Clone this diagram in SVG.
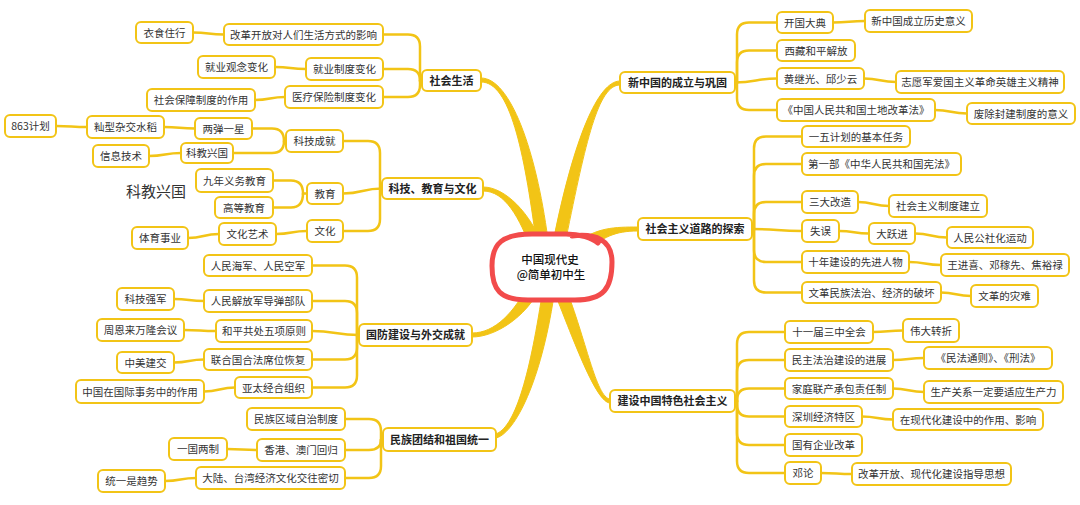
<svg xmlns="http://www.w3.org/2000/svg" width="1080" height="505" viewBox="0 0 1080 505">
<style>
.n rect{fill:#fff;stroke:#F2C416;stroke-width:2}
.n text{font-family:"Noto Sans CJK SC","Noto Sans",sans-serif;font-size:10.5px;fill:#333;text-anchor:middle}
.m text{font-size:11px;font-weight:bold;fill:#222}
#conn path{fill:none;stroke:#F2C416;stroke-width:2.5;stroke-linecap:round}
#branches path{fill:#F2C416;stroke:#F2C416;stroke-width:1}
.free{font-family:"Noto Sans CJK SC","Noto Sans",sans-serif;font-size:15px;fill:#333;text-anchor:middle}
.ct{font-family:"Noto Sans CJK SC","Noto Sans",sans-serif;font-size:11.5px;font-weight:500;fill:#111;text-anchor:middle}
</style>
<rect width="1080" height="505" fill="#fff"/>
<g id="branches">
<path d="M547.9,239.2C535.9,149.2 510,78 481,78L481,82C510,82 524.1,150.8 536.1,240.8Z"/>
<path d="M565.9,239.2C585.9,141.2 598,85 620,85L620,81C598,81 574.1,138.8 554.1,236.8Z"/>
<path d="M583.8,252.7C603.8,236.7 615,231 638,231L638,227C615,227 596.2,227.3 576.2,243.3Z"/>
<path d="M554.4,292.2C574.4,342.2 595.9,402 609.9,403L610.1,399C596.1,398 585.6,337.8 565.6,287.8Z"/>
<path d="M543.6,247.9C530.6,212.9 505,187 483,187L483,191C505,191 519.4,217.1 532.4,252.1Z"/>
<path d="M529.6,282.3C514.6,312.3 495,333 472,333L472,337C495,337 525.4,317.7 540.4,287.7Z"/>
<path d="M542.1,294.1C529.1,379.1 514.4,428.1 495.4,434.1L496.6,437.9C515.6,431.9 540.9,380.9 553.9,295.9Z"/>
</g>
<g id="center">
<path d="M572,236C596,233 612,240 612,262C612,288 604,300 575,300L528,300C500,300 492,290 492,266C492,243 503,234 532,234L566,234C580,234 592,238 598,243" fill="#fff" stroke="#F24B4B" stroke-width="5" stroke-linecap="round"/>
<text class="ct" x="550" y="264">中国现代史</text>
<text class="ct" x="551" y="279">@简单初中生</text>
</g>
<g id="conn">
<path d="M735,82.5H737V34.5Q737,22.5 749,22.5H777"/>
<path d="M737,82.5V62.5Q737,50.5 749,50.5H777"/>
<path d="M735,82.5C756,82.5 756,78.5 777,78.5"/>
<path d="M737,82.5V98Q737,110 749,110H777"/>
<path d="M833,22.5C849,22.5 849,21 865,21"/>
<path d="M864,78.5C880,78.5 880,82 896,82"/>
<path d="M935,110C951,110 951,113.5 967,113.5"/>
<path d="M752,229H754V148.5Q754,136.5 766,136.5H802"/>
<path d="M754,229V176Q754,164 766,164H802"/>
<path d="M754,229V214Q754,202 766,202H802"/>
<path d="M752,229C777,229 777,231 802,231"/>
<path d="M754,229V250Q754,262 766,262H802"/>
<path d="M754,229V280.5Q754,292.5 766,292.5H802"/>
<path d="M858,202C873,202 874,206 889,206"/>
<path d="M839,231C854,231 854,233.5 869,233.5"/>
<path d="M915,233.5C931,233.5 931,237.5 947,237.5"/>
<path d="M909,262C925,262 925,265 941,265"/>
<path d="M941,292.5C956,292.5 956,296 971,296"/>
<path d="M735,401H737V344Q737,332 749,332H785"/>
<path d="M737,401V372Q737,360 749,360H785"/>
<path d="M737,401V400.5Q737,388.5 749,388.5H785"/>
<path d="M737,401V404.5Q737,416.5 749,416.5H785"/>
<path d="M737,401V433Q737,445 749,445H785"/>
<path d="M737,401V461Q737,473 749,473H785"/>
<path d="M873,332C888,332 888,330.5 903,330.5"/>
<path d="M893,360C908,360 909,358 924,358"/>
<path d="M893,388.5C908,388.5 909,392 924,392"/>
<path d="M862,416.5C877,416.5 878,419.5 893,419.5"/>
<path d="M821,473C836,473 837,474 852,474"/>
<path d="M422,80.5H420V46.5Q420,34.5 408,34.5H383"/>
<path d="M420,80.5Q420,69 408,69H383"/>
<path d="M420,80.5V85Q420,97 408,97H383"/>
<path d="M224,34.5C208,34.5 209,32.5 193,32.5"/>
<path d="M306,69C290,69 291,67 275,67"/>
<path d="M285,97C270,97 270,100 255,100"/>
<path d="M382,188.5H380V153Q380,141 368,141H343"/>
<path d="M382,188.5C362,188.5 363,193.5 343,193.5"/>
<path d="M380,188.5V219Q380,231 368,231H343"/>
<path d="M286,141H284Q284,128.5 272,128.5H252"/>
<path d="M284,141Q284,153 272,153H233"/>
<path d="M195,128.5C180,128.5 179,127 164,127"/>
<path d="M87,127C72,127 71,126 56,126"/>
<path d="M181,153C165,153 165,156 149,156"/>
<path d="M307,193.5H303Q303,180.5 291,180.5H273"/>
<path d="M303,193.5Q303,207.5 291,207.5H273"/>
<path d="M307,231C291,231 292,234 276,234"/>
<path d="M219,234C203,234 204,238 188,238"/>
<path d="M359,335H357V277.5Q357,265.5 345,265.5H312"/>
<path d="M357,335V313Q357,301 345,301H312"/>
<path d="M359,335C336,335 335,331 312,331"/>
<path d="M357,335V347.5Q357,359.5 345,359.5H312"/>
<path d="M357,335V375.5Q357,387.5 345,387.5H312"/>
<path d="M204,301C189,301 189,299 174,299"/>
<path d="M216,331C200,331 200,330 184,330"/>
<path d="M204,359.5C189,359.5 189,362.5 174,362.5"/>
<path d="M235,387.5C220,387.5 219,391.5 204,391.5"/>
<path d="M383,439.5H381V431Q381,419 369,419H345"/>
<path d="M381,439.5Q381,450 369,450H345"/>
<path d="M381,439.5V466Q381,478 369,478H345"/>
<path d="M257,450C242,450 242,449 227,449"/>
<path d="M196,478C180,478 181,481 165,481"/>
</g>
<g id="m_xinzhongguo" class="n m"><rect x="620" y="72" width="115" height="21" rx="5"/><text x="677.5" y="86.5">新中国的成立与巩固</text></g>
<g id="kaiguo" class="n"><rect x="777" y="12" width="56" height="21" rx="5"/><text x="805" y="26.5">开国大典</text></g>
<g id="lishi" class="n"><rect x="865" y="10" width="107" height="22" rx="5"/><text x="918.5" y="25">新中国成立历史意义</text></g>
<g id="xizang" class="n"><rect x="777" y="40" width="78" height="21" rx="5"/><text x="816" y="54.5">西藏和平解放</text></g>
<g id="huang" class="n"><rect x="777" y="68" width="87" height="21" rx="5"/><text x="820.5" y="82.5">黄继光、邱少云</text></g>
<g id="zhiyuan" class="n"><rect x="896" y="71" width="168" height="22" rx="5"/><text x="980" y="86">志愿军爱国主义革命英雄主义精神</text></g>
<g id="tudi" class="n"><rect x="777" y="99" width="158" height="22" rx="5"/><text x="856" y="114">《中国人民共和国土地改革法》</text></g>
<g id="feichu" class="n"><rect x="967" y="103" width="108" height="21" rx="5"/><text x="1021" y="117.5">废除封建制度的意义</text></g>
<g id="m_tansuo" class="n m"><rect x="638" y="218" width="114" height="22" rx="5"/><text x="695" y="233">社会主义道路的探索</text></g>
<g id="yiwu" class="n"><rect x="802" y="126" width="108" height="21" rx="5"/><text x="856" y="140.5">一五计划的基本任务</text></g>
<g id="xianfa" class="n"><rect x="802" y="153" width="159" height="22" rx="5"/><text x="881.5" y="168">第一部《中华人民共和国宪法》</text></g>
<g id="sanda" class="n"><rect x="802" y="191" width="56" height="22" rx="5"/><text x="830" y="206">三大改造</text></g>
<g id="zhidu" class="n"><rect x="889" y="195" width="98" height="22" rx="5"/><text x="938" y="210">社会主义制度建立</text></g>
<g id="shiwu" class="n"><rect x="802" y="220" width="37" height="22" rx="5"/><text x="820.5" y="235">失误</text></g>
<g id="dayue" class="n"><rect x="869" y="223" width="46" height="21" rx="5"/><text x="892" y="237.5">大跃进</text></g>
<g id="gongshe" class="n"><rect x="947" y="227" width="86" height="21" rx="5"/><text x="990" y="241.5">人民公社化运动</text></g>
<g id="shinian" class="n"><rect x="802" y="251" width="107" height="22" rx="5"/><text x="855.5" y="266">十年建设的先进人物</text></g>
<g id="wang" class="n"><rect x="941" y="254" width="128" height="22" rx="5"/><text x="1005" y="269">王进喜、邓稼先、焦裕禄</text></g>
<g id="wenge" class="n"><rect x="802" y="282" width="139" height="21" rx="5"/><text x="871.5" y="296.5">文革民族法治、经济的破坏</text></g>
<g id="zainan" class="n"><rect x="971" y="285" width="67" height="22" rx="5"/><text x="1004.5" y="300">文革的灾难</text></g>
<g id="m_tese" class="n m"><rect x="610" y="390" width="125" height="22" rx="5"/><text x="672.5" y="405">建设中国特色社会主义</text></g>
<g id="sanzhong" class="n"><rect x="785" y="321" width="88" height="22" rx="5"/><text x="829" y="336">十一届三中全会</text></g>
<g id="weida" class="n"><rect x="903" y="319" width="56" height="23" rx="5"/><text x="931" y="334.5">伟大转折</text></g>
<g id="minzhu" class="n"><rect x="785" y="349" width="108" height="22" rx="5"/><text x="839" y="364">民主法治建设的进展</text></g>
<g id="minfa" class="n"><rect x="924" y="347" width="128" height="22" rx="5"/><text x="988" y="362">《民法通则》、《刑法》</text></g>
<g id="jiating" class="n"><rect x="785" y="378" width="108" height="21" rx="5"/><text x="839" y="392.5">家庭联产承包责任制</text></g>
<g id="shengchan" class="n"><rect x="924" y="381" width="139" height="22" rx="5"/><text x="993.5" y="396">生产关系一定要适应生产力</text></g>
<g id="shenzhen" class="n"><rect x="785" y="406" width="77" height="21" rx="5"/><text x="823.5" y="420.5">深圳经济特区</text></g>
<g id="zuoyong" class="n"><rect x="893" y="409" width="150" height="21" rx="5"/><text x="968" y="423.5">在现代化建设中的作用、影响</text></g>
<g id="guoqi" class="n"><rect x="785" y="434" width="77" height="22" rx="5"/><text x="823.5" y="449">国有企业改革</text></g>
<g id="denglun" class="n"><rect x="785" y="462" width="36" height="22" rx="5"/><text x="803" y="477">邓论</text></g>
<g id="gaige" class="n"><rect x="852" y="463" width="159" height="22" rx="5"/><text x="931.5" y="478">改革开放、现代化建设指导思想</text></g>
<g id="m_shenghuo" class="n m"><rect x="422" y="70" width="59" height="21" rx="5"/><text x="451.5" y="84.5">社会生活</text></g>
<g id="fangshi" class="n"><rect x="224" y="24" width="159" height="21" rx="5"/><text x="303.5" y="38.5">改革开放对人们生活方式的影响</text></g>
<g id="yishi" class="n"><rect x="136" y="22" width="57" height="21" rx="5"/><text x="164.5" y="36.5">衣食住行</text></g>
<g id="jiuye" class="n"><rect x="306" y="58" width="77" height="22" rx="5"/><text x="344.5" y="73">就业制度变化</text></g>
<g id="guannian" class="n"><rect x="198" y="56" width="77" height="22" rx="5"/><text x="236.5" y="71">就业观念变化</text></g>
<g id="yiliao" class="n"><rect x="285" y="86" width="98" height="22" rx="5"/><text x="334" y="101">医疗保险制度变化</text></g>
<g id="baozhang" class="n"><rect x="147" y="89" width="108" height="22" rx="5"/><text x="201" y="104">社会保障制度的作用</text></g>
<g id="m_keji" class="n m"><rect x="382" y="178" width="101" height="21" rx="5"/><text x="432.5" y="192.5">科技、教育与文化</text></g>
<g id="chengjiu" class="n"><rect x="286" y="130" width="57" height="22" rx="5"/><text x="314.5" y="145">科技成就</text></g>
<g id="liangdan" class="n"><rect x="195" y="118" width="57" height="21" rx="5"/><text x="223.5" y="132.5">两弹一星</text></g>
<g id="xianxing" class="n"><rect x="87" y="116" width="77" height="22" rx="5"/><text x="125.5" y="131">籼型杂交水稻</text></g>
<g id="p863" class="n"><rect x="5" y="115" width="51" height="22" rx="5"/><text x="30.5" y="130">863计划</text></g>
<g id="kejiao" class="n"><rect x="181" y="143" width="52" height="20" rx="5"/><text x="207" y="157">科教兴国</text></g>
<g id="xinxi" class="n"><rect x="93" y="145" width="56" height="22" rx="5"/><text x="121" y="160">信息技术</text></g>
<g id="jiaoyu" class="n"><rect x="307" y="183" width="36" height="21" rx="5"/><text x="325" y="197.5">教育</text></g>
<g id="jiunian" class="n"><rect x="196" y="169" width="77" height="23" rx="5"/><text x="234.5" y="184.5">九年义务教育</text></g>
<g id="gaodeng" class="n"><rect x="215" y="197" width="58" height="21" rx="5"/><text x="244" y="211.5">高等教育</text></g>
<g id="wenhua" class="n"><rect x="307" y="220" width="36" height="22" rx="5"/><text x="325" y="235">文化</text></g>
<g id="yishu" class="n"><rect x="219" y="223" width="57" height="22" rx="5"/><text x="247.5" y="238">文化艺术</text></g>
<g id="tiyu" class="n"><rect x="132" y="227" width="56" height="22" rx="5"/><text x="160" y="242">体育事业</text></g>
<text class="free" x="156" y="197">科教兴国</text>
<g id="m_guofang" class="n m"><rect x="359" y="324" width="113" height="22" rx="5"/><text x="415.5" y="339">国防建设与外交成就</text></g>
<g id="haijun" class="n"><rect x="204" y="255" width="108" height="21" rx="5"/><text x="258" y="269.5">人民海军、人民空军</text></g>
<g id="daodan" class="n"><rect x="204" y="290" width="108" height="22" rx="5"/><text x="258" y="305">人民解放军导弹部队</text></g>
<g id="heping" class="n"><rect x="216" y="320" width="96" height="22" rx="5"/><text x="264" y="335">和平共处五项原则</text></g>
<g id="lianheguo" class="n"><rect x="204" y="349" width="108" height="21" rx="5"/><text x="258" y="363.5">联合国合法席位恢复</text></g>
<g id="yatai" class="n"><rect x="235" y="377" width="77" height="21" rx="5"/><text x="273.5" y="391.5">亚太经合组织</text></g>
<g id="qiangjun" class="n"><rect x="117" y="288" width="57" height="22" rx="5"/><text x="145.5" y="303">科技强军</text></g>
<g id="wanlong" class="n"><rect x="97" y="319" width="87" height="22" rx="5"/><text x="140.5" y="334">周恩来万隆会议</text></g>
<g id="zhongmei" class="n"><rect x="117" y="352" width="57" height="21" rx="5"/><text x="145.5" y="366.5">中美建交</text></g>
<g id="guoji" class="n"><rect x="76" y="380" width="128" height="23" rx="5"/><text x="140" y="395.5">中国在国际事务中的作用</text></g>
<g id="m_minzu" class="n m"><rect x="383" y="428" width="113" height="23" rx="5"/><text x="439.5" y="443.5">民族团结和祖国统一</text></g>
<g id="quyu" class="n"><rect x="247" y="408" width="98" height="22" rx="5"/><text x="296" y="423">民族区域自治制度</text></g>
<g id="xianggang" class="n"><rect x="257" y="439" width="88" height="22" rx="5"/><text x="301" y="454">香港、澳门回归</text></g>
<g id="dalu" class="n"><rect x="196" y="467" width="149" height="22" rx="5"/><text x="270.5" y="482">大陆、台湾经济文化交往密切</text></g>
<g id="yiguo" class="n"><rect x="169" y="438" width="58" height="22" rx="5"/><text x="198" y="453">一国两制</text></g>
<g id="tongyi" class="n"><rect x="98" y="470" width="67" height="22" rx="5"/><text x="131.5" y="485">统一是趋势</text></g>
</svg>
